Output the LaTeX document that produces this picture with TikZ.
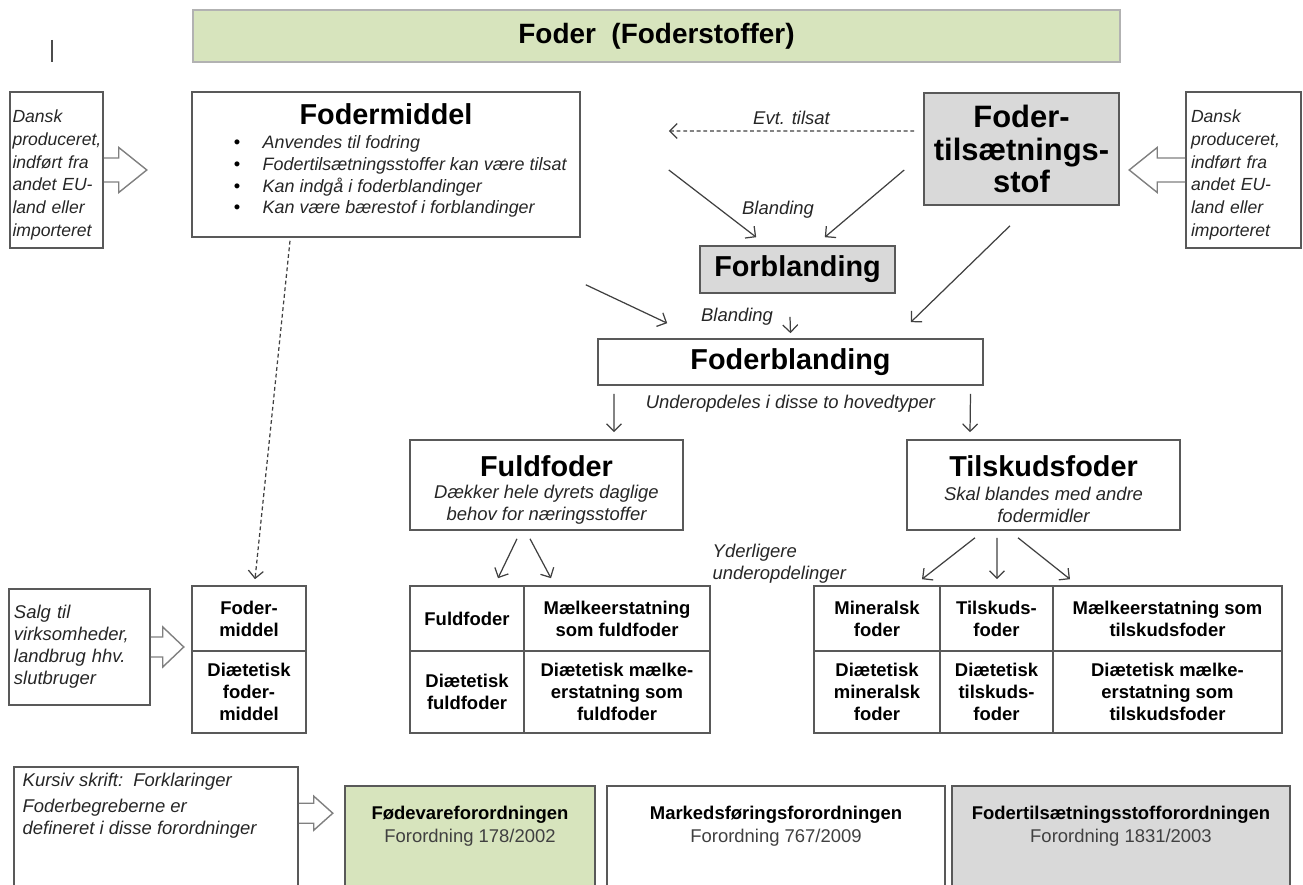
\documentclass[tikz,border=0pt]{standalone}
\usepackage{fontspec}
\setmainfont{Liberation Sans}
\usetikzlibrary{arrows.meta}

\definecolor{feedgreen}{HTML}{D7E4BD}
\definecolor{feedgrey}{HTML}{D9D9D9}
\definecolor{framegrey}{HTML}{595959}
\definecolor{linegrey}{HTML}{404040}

\begin{document}
\begin{tikzpicture}
[line width=0.8pt,
box/.style={rectangle, draw=framegrey, inner sep=0pt, line width=0.9pt},
head/.style={font=\bfseries\fontsize{16.4}{19}\selectfont},
note/.style={font=\itshape\fontsize{10.5}{12.5}\selectfont, text=black!85, inner sep=0pt},
item/.style={note, font=\itshape\fontsize{10.2}{12.5}\selectfont, text height=1.6ex, text depth=0.4ex},
dot/.style={font=\fontsize{10.5}{12.5}\selectfont, inner sep=0pt, text height=1.6ex, text depth=0.4ex},
src/.style={font=\itshape\fontsize{10}{13}\selectfont, align=left, text=black!85, inner sep=0pt},
cell/.style={box, align=center, font=\bfseries\fontsize{10.5}{12.5}\selectfont},
reg/.style={align=center, font=\fontsize{10.5}{13}\selectfont, text=linegrey},
arr/.style={draw=linegrey, line width=0.7pt, -{Straight Barb[length=1.5mm,width=3mm]}},
fat/.style={draw=gray, line width=0.8pt}]

\useasboundingbox (0,0) rectangle (26.06,17.7);
\clip (0,0) rectangle (26.06,17.7);

% top row
\node[box, draw=gray!60, fill=feedgreen, minimum width=18.54cm, minimum height=1.04cm,
  font=\bfseries\fontsize{15.9}{19}\selectfont] (foder) at (13.13,16.98) {Foder\ \ (Foderstoffer)};
\draw[line width=1.2pt, black!70] (1.04,16.9) -- (1.04,16.46);

\node[box, minimum width=1.86cm, minimum height=3.12cm] (srcleft) at (1.13,14.3) {};
\node[src, text width=1.76cm] (srclefttxt) at ([yshift=-0.1cm]srcleft.center)
  {Dansk\\produceret,\\indført fra\\andet EU-\\land eller\\importeret};
\node[box, minimum width=2.3cm, minimum height=3.12cm] (srcright) at (24.87,14.3) {};
\node[src, text width=2.1cm] (srcrighttxt) at ([yshift=-0.1cm]srcright.center)
  {Dansk\\produceret,\\indført fra\\andet EU-\\land eller\\importeret};

\node[box, minimum width=7.76cm, minimum height=2.9cm] (fmbox) at (7.72,14.41) {};
\node[head] (fmtitle) at (7.72,15.42) {Fodermiddel};
\foreach \y/\txt [count=\i] in {14.84/Anvendes til fodring, 14.40/Fodertilsætningsstoffer kan være tilsat,
  13.96/Kan indgå i foderblandinger, 13.54/Kan være bærestof i forblandinger} {
  \node[dot] (fmdot\i) at (4.74,\y) {\textbullet};
  \node[item, anchor=west] (fmitem\i) at (5.24,\y) {\txt};
}

\node[box, fill=feedgrey, minimum width=3.9cm, minimum height=2.24cm, align=center,
  font=\bfseries\fontsize{17.6}{18.4}\selectfont] (ftsbox) at (20.43,14.72) {Foder-\\tilsætnings-\\stof};

% middle
\node[box, fill=feedgrey, minimum width=3.9cm, minimum height=0.94cm, head] (forbl) at (15.95,12.31) {Forblanding};
\node[box, minimum width=7.7cm, minimum height=0.92cm, head] (foderbl) at (15.81,10.46) {Foderblanding};

\node[box, minimum width=5.46cm, minimum height=1.8cm] (fuldbox) at (10.93,8.0) {};
\node[head] (fuldtitle) at (10.93,8.38) {Fuldfoder};
\node[note, align=center] (fuldnote) at (10.93,7.6) {Dækker hele dyrets daglige\\behov for næringsstoffer};

\node[box, minimum width=5.46cm, minimum height=1.8cm] (tilskbox) at (20.87,8.0) {};
\node[head] (tilsktitle) at (20.87,8.38) {Tilskudsfoder};
\node[note, align=center] (tilsknote) at (20.87,7.6) {Skal blandes med andre\\fodermidler};

\node[note, align=left, anchor=west] (yderlig) at (14.24,6.42) {Yderligere\\underopdelinger};

% tables
\node[cell, minimum width=2.28cm, minimum height=1.3cm] (fmA) at (4.98,5.33) {Foder-\\middel};
\node[cell, minimum width=2.28cm, minimum height=1.64cm] (fmB) at (4.98,3.86) {Diætetisk\\foder-\\middel};

\node[cell, minimum width=2.28cm, minimum height=1.3cm] (fuA) at (9.34,5.33) {Fuldfoder};
\node[cell, minimum width=3.72cm, minimum height=1.3cm] (fuB) at (12.34,5.33) {Mælkeerstatning\\som fuldfoder};
\node[cell, minimum width=2.28cm, minimum height=1.64cm] (fuC) at (9.34,3.86) {Diætetisk\\fuldfoder};
\node[cell, minimum width=3.72cm, minimum height=1.64cm] (fuD) at (12.34,3.86) {Diætetisk mælke-\\erstatning som\\fuldfoder};

\node[cell, minimum width=2.52cm, minimum height=1.3cm] (tiA) at (17.54,5.33) {Mineralsk\\foder};
\node[cell, minimum width=2.26cm, minimum height=1.3cm] (tiB) at (19.93,5.33) {Tilskuds-\\foder};
\node[cell, minimum width=4.58cm, minimum height=1.3cm] (tiC) at (23.35,5.33) {Mælkeerstatning som\\tilskudsfoder};
\node[cell, minimum width=2.52cm, minimum height=1.64cm] (tiD) at (17.54,3.86) {Diætetisk\\mineralsk\\foder};
\node[cell, minimum width=2.26cm, minimum height=1.64cm] (tiE) at (19.93,3.86) {Diætetisk\\tilskuds-\\foder};
\node[cell, minimum width=4.58cm, minimum height=1.64cm] (tiF) at (23.35,3.86) {Diætetisk mælke-\\erstatning som\\tilskudsfoder};

\node[box, minimum width=2.82cm, minimum height=2.32cm] (salg) at (1.59,4.76) {};
\node[src, font=\itshape\fontsize{10.5}{12.5}\selectfont, text width=2.62cm] (salgtxt) at (salg.center)
  {Salg til\\virksomheder,\\landbrug hhv.\\slutbruger};

% bottom row
\node[box, minimum width=5.68cm, minimum height=3cm] (kursiv) at (3.12,0.86) {};
\node[note, anchor=west] (kursiv1) at (0.44,2.06) {Kursiv skrift:\ \ Forklaringer};
\node[note, anchor=west, align=left] (kursiv2) at (0.44,1.32) {Foderbegreberne er\\defineret i disse forordninger};

\node[box, fill=feedgreen, minimum width=5cm, minimum height=2.7cm] (fvo) at (9.4,0.63) {};
\node[box, minimum width=6.76cm, minimum height=2.7cm] (mfo) at (15.52,0.63) {};
\node[box, fill=feedgrey, minimum width=6.76cm, minimum height=2.7cm] (ftso) at (22.42,0.63) {};
\node[reg] (fvotxt) at (9.4,1.17) {\textbf{\color{black}Fødevareforordningen}\\Forordning 178/2002};
\node[reg] (mfotxt) at (15.52,1.17) {\textbf{\color{black}Markedsføringsforordningen}\\Forordning 767/2009};
\node[reg] (ftsotxt) at (22.42,1.17) {\textbf{\color{black}Fodertilsætningsstofforordningen}\\Forordning 1831/2003};

% block arrows
\draw[fat] ([yshift=0.24cm]srcleft.east) -- ++(0.3,0) -- ++(0,0.21) -- ++(0.56,-0.45)
  -- ++(-0.56,-0.45) -- ++(0,0.21) -- ++(-0.3,0);
\draw[fat] ([yshift=0.24cm]srcright.west) -- ++(-0.56,0) -- ++(0,0.21) -- ++(-0.56,-0.45)
  -- ++(0.56,-0.45) -- ++(0,0.21) -- ++(0.56,0);
\draw[fat] ([yshift=0.2cm]salg.east) -- ++(0.24,0) -- ++(0,0.2) -- ++(0.42,-0.4)
  -- ++(-0.42,-0.4) -- ++(0,0.2) -- ++(-0.24,0);
\draw[fat] ([yshift=-0.74cm]kursiv.north east) -- ++(0.3,0) -- ++(0,0.14) -- ++(0.38,-0.34)
  -- ++(-0.38,-0.34) -- ++(0,0.14) -- ++(-0.3,0);

% connectors
\draw[arr, dashed, dash pattern=on 2.2pt off 1.6pt] ([xshift=-0.18cm,yshift=0.36cm]ftsbox.west)
  -- node[note, above=0.12cm] (evt) {Evt. tilsat} ([xshift=1.76cm,yshift=0.67cm]fmbox.east);
\draw[arr] ([xshift=1.76cm,yshift=-0.11cm]fmbox.east) -- ([xshift=1.14cm,yshift=0.16cm]forbl.north west);
\draw[arr] ([xshift=-0.38cm,yshift=-0.42cm]ftsbox.west) -- ([xshift=-1.42cm,yshift=0.16cm]forbl.north east);
\node[note] (bland1) at ([xshift=-0.39cm,yshift=0.7cm]forbl.north) {Blanding};

\draw[arr] ([xshift=0.1cm,yshift=-0.94cm]fmbox.south east) -- ([xshift=1.4cm,yshift=0.3cm]foderbl.north west);
\draw[arr] ([xshift=-0.23cm,yshift=-0.4cm]ftsbox.south) -- ([xshift=-1.46cm,yshift=0.32cm]foderbl.north east);
\node[note] (bland2) at ([xshift=-1.07cm,yshift=0.42cm]foderbl.north) {Blanding};
\draw[arr] ([xshift=-0.15cm,yshift=-0.46cm]forbl.south) -- ([yshift=0.1cm]foderbl.north);

\node[note] (underop) at ([yshift=-0.36cm]foderbl.south) {Underopdeles i disse to hovedtyper};
\draw[arr] ([xshift=-3.53cm,yshift=-0.16cm]foderbl.south) -- ([xshift=1.35cm,yshift=0.14cm]fuldbox.north);
\draw[arr] ([xshift=3.6cm,yshift=-0.16cm]foderbl.south) -- ([xshift=-1.47cm,yshift=0.14cm]tilskbox.north);

\draw[arr, dashed, dash pattern=on 2.2pt off 1.6pt] ([xshift=-1.92cm,yshift=-0.06cm]fmbox.south)
  -- ([xshift=0.12cm,yshift=0.12cm]fmA.north);

\draw[arr] ([xshift=-0.59cm,yshift=-0.16cm]fuldbox.south) -- ([xshift=0.62cm,yshift=0.14cm]fuA.north);
\draw[arr] ([xshift=-0.33cm,yshift=-0.16cm]fuldbox.south) -- ([xshift=-1.32cm,yshift=0.14cm]fuB.north);

\draw[arr] ([xshift=-1.37cm,yshift=-0.14cm]tilskbox.south) -- ([xshift=0.9cm,yshift=0.12cm]tiA.north);
\draw[arr] ([xshift=-0.93cm,yshift=-0.14cm]tilskbox.south) -- ([xshift=0.01cm,yshift=0.12cm]tiB.north);
\draw[arr] ([xshift=-0.51cm,yshift=-0.14cm]tilskbox.south) -- ([xshift=-1.95cm,yshift=0.12cm]tiC.north);
\end{tikzpicture}
\end{document}
